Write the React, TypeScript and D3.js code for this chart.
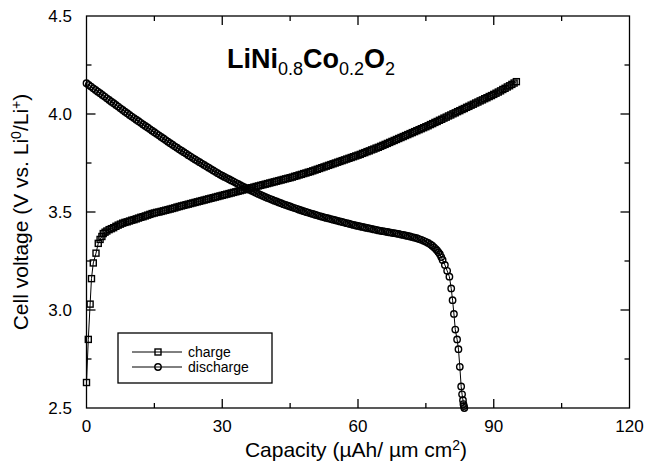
import React, { useEffect, useRef } from "react";
import * as d3 from "d3";

// capacity (µAh/µm cm²), voltage (V)
const chargePoints: [number, number][] = [
  [0, 2.63], [0.4, 2.85], [0.8, 3.03], [1.1, 3.16], [1.5, 3.24], [2.1, 3.29],
  [2.6, 3.34], [3, 3.36], [3.4, 3.375], [3.7, 3.39], [4.1, 3.397], [4.5, 3.403],
  [5, 3.41], [5.5, 3.415], [6, 3.42], [6.5, 3.427], [7, 3.433], [7.5, 3.438],
  [8, 3.443], [8.5, 3.447], [9, 3.45], [9.5, 3.454], [10, 3.458], [10.5, 3.461],
  [11, 3.465], [11.5, 3.469], [12, 3.473], [12.5, 3.476], [13, 3.48], [13.5, 3.484],
  [14, 3.488], [14.5, 3.492], [15, 3.495], [15.5, 3.498], [16, 3.5], [16.5, 3.503],
  [17, 3.506], [17.5, 3.509], [18, 3.512], [18.5, 3.515], [19, 3.518], [19.5, 3.521],
  [20, 3.525], [20.5, 3.528], [21, 3.531], [21.5, 3.534], [22, 3.537], [22.5, 3.54],
  [23, 3.543], [23.5, 3.546], [24, 3.549], [24.5, 3.552], [25, 3.555], [25.5, 3.558],
  [26, 3.561], [26.5, 3.564], [27, 3.567], [27.5, 3.57], [28, 3.573], [28.5, 3.576],
  [29, 3.579], [29.5, 3.582], [30, 3.585], [30.5, 3.588], [31, 3.591], [31.5, 3.594],
  [32, 3.597], [32.5, 3.6], [33, 3.603], [33.5, 3.606], [34, 3.609], [34.5, 3.612],
  [35, 3.615], [35.5, 3.618], [36, 3.621], [36.5, 3.624], [37, 3.627], [37.5, 3.63],
  [38, 3.633], [38.5, 3.636], [39, 3.639], [39.5, 3.642], [40, 3.645], [40.5, 3.648],
  [41, 3.651], [41.5, 3.654], [42, 3.657], [42.5, 3.66], [43, 3.663], [43.5, 3.666],
  [44, 3.669], [44.5, 3.672], [45, 3.675], [45.5, 3.678], [46, 3.682], [46.5, 3.685],
  [47, 3.689], [47.5, 3.692], [48, 3.696], [48.5, 3.699], [49, 3.703], [49.5, 3.706],
  [50, 3.71], [50.5, 3.714], [51, 3.718], [51.5, 3.722], [52, 3.726], [52.5, 3.73],
  [53, 3.734], [53.5, 3.738], [54, 3.742], [54.5, 3.746], [55, 3.75], [55.5, 3.754],
  [56, 3.758], [56.5, 3.762], [57, 3.766], [57.5, 3.77], [58, 3.774], [58.5, 3.778],
  [59, 3.782], [59.5, 3.786], [60, 3.79], [60.5, 3.794], [61, 3.799], [61.5, 3.803],
  [62, 3.808], [62.5, 3.812], [63, 3.817], [63.5, 3.821], [64, 3.826], [64.5, 3.83],
  [65, 3.835], [65.5, 3.84], [66, 3.845], [66.5, 3.85], [67, 3.855], [67.5, 3.86],
  [68, 3.865], [68.5, 3.87], [69, 3.875], [69.5, 3.88], [70, 3.885], [70.5, 3.89],
  [71, 3.895], [71.5, 3.9], [72, 3.905], [72.5, 3.91], [73, 3.915], [73.5, 3.92],
  [74, 3.925], [74.5, 3.93], [75, 3.935], [75.5, 3.94], [76, 3.946], [76.5, 3.951],
  [77, 3.957], [77.5, 3.962], [78, 3.968], [78.5, 3.973], [79, 3.979], [79.5, 3.984],
  [80, 3.99], [80.5, 3.995], [81, 4.001], [81.5, 4.006], [82, 4.012], [82.5, 4.017],
  [83, 4.023], [83.5, 4.028], [84, 4.034], [84.5, 4.039], [85, 4.045], [85.5, 4.05],
  [86, 4.056], [86.5, 4.061], [87, 4.067], [87.5, 4.072], [88, 4.078], [88.5, 4.083],
  [89, 4.089], [89.5, 4.094], [90, 4.1], [90.5, 4.106], [91, 4.112], [91.5, 4.118],
  [92, 4.125], [92.5, 4.131], [93, 4.138], [93.5, 4.144], [94, 4.151], [94.5, 4.158],
  [95, 4.165],
];

const dischargePoints: [number, number][] = [
  [0, 4.157], [0.5, 4.148], [1, 4.14], [1.5, 4.131], [2, 4.123], [2.5, 4.114],
  [3, 4.106], [3.5, 4.097], [4, 4.089], [4.5, 4.08], [5, 4.072], [5.5, 4.063],
  [6, 4.055], [6.5, 4.046], [7, 4.038], [7.5, 4.029], [8, 4.021], [8.5, 4.012],
  [9, 4.004], [9.5, 3.995], [10, 3.987], [10.5, 3.979], [11, 3.971], [11.5, 3.963],
  [12, 3.955], [12.5, 3.947], [13, 3.939], [13.5, 3.931], [14, 3.923], [14.5, 3.915],
  [15, 3.907], [15.5, 3.899], [16, 3.891], [16.5, 3.883], [17, 3.875], [17.5, 3.867],
  [18, 3.859], [18.5, 3.851], [19, 3.843], [19.5, 3.835], [20, 3.828], [20.5, 3.82],
  [21, 3.813], [21.5, 3.805], [22, 3.798], [22.5, 3.79], [23, 3.783], [23.5, 3.775],
  [24, 3.768], [24.5, 3.761], [25, 3.754], [25.5, 3.747], [26, 3.74], [26.5, 3.733],
  [27, 3.726], [27.5, 3.719], [28, 3.712], [28.5, 3.705], [29, 3.698], [29.5, 3.691],
  [30, 3.685], [30.5, 3.679], [31, 3.673], [31.5, 3.667], [32, 3.661], [32.5, 3.655],
  [33, 3.649], [33.5, 3.643], [34, 3.637], [34.5, 3.631], [35, 3.625], [35.5, 3.619],
  [36, 3.614], [36.5, 3.608], [37, 3.603], [37.5, 3.597], [38, 3.592], [38.5, 3.587],
  [39, 3.582], [39.5, 3.577], [40, 3.572], [40.5, 3.567], [41, 3.563], [41.5, 3.558],
  [42, 3.554], [42.5, 3.549], [43, 3.545], [43.5, 3.54], [44, 3.536], [44.5, 3.532],
  [45, 3.528], [45.5, 3.524], [46, 3.52], [46.5, 3.516], [47, 3.512], [47.5, 3.508],
  [48, 3.504], [48.5, 3.5], [49, 3.497], [49.5, 3.493], [50, 3.49], [50.5, 3.486],
  [51, 3.483], [51.5, 3.479], [52, 3.476], [52.5, 3.473], [53, 3.47], [53.5, 3.467],
  [54, 3.464], [54.5, 3.461], [55, 3.458], [55.5, 3.455], [56, 3.452], [56.5, 3.449],
  [57, 3.446], [57.5, 3.443], [58, 3.44], [58.5, 3.437], [59, 3.434], [59.5, 3.431],
  [60, 3.429], [60.5, 3.426], [61, 3.424], [61.5, 3.421], [62, 3.419], [62.5, 3.416],
  [63, 3.414], [63.5, 3.411], [64, 3.409], [64.5, 3.406], [65, 3.404], [65.5, 3.402],
  [66, 3.4], [66.5, 3.398], [67, 3.396], [67.5, 3.394], [68, 3.392], [68.5, 3.39],
  [69, 3.388], [69.5, 3.385], [70, 3.383], [70.5, 3.38], [71, 3.378], [71.5, 3.375],
  [72, 3.372], [72.5, 3.369], [73, 3.366], [73.5, 3.362], [74, 3.358], [74.5, 3.353],
  [75, 3.348], [75.5, 3.342], [76, 3.335], [76.4, 3.328], [76.8, 3.32], [77.2, 3.311],
  [77.5, 3.303], [77.8, 3.294], [78.1, 3.285], [78.4, 3.27], [78.7, 3.255], [79.2, 3.23],
  [79.7, 3.2], [80.2, 3.17], [80.6, 3.11], [80.9, 3.05], [81.2, 2.98], [81.5, 2.9],
  [81.9, 2.85], [82.2, 2.8], [82.5, 2.71], [82.8, 2.61], [83, 2.57], [83.2, 2.54],
  [83.3, 2.52], [83.4, 2.51], [83.5, 2.5],
];

const xTicks = [0, 30, 60, 90, 120];
const yTicks = [2.5, 3.0, 3.5, 4.0, 4.5];
const xMinor = [15, 45, 75, 105];
const yMinor = [2.75, 3.25, 3.75, 4.25];

export default function App() {
  const ref = useRef<SVGSVGElement>(null);

  useEffect(() => {
    const svg = d3.select(ref.current);
    svg.selectAll("*").remove();

    const left = 86.5, right = 629.5, top = 16, bottom = 408;
    const x = d3.scaleLinear().domain([0, 120]).range([left, right]);
    const y = d3.scaleLinear().domain([2.5, 4.5]).range([bottom, top]);
    const font = "'Liberation Sans', Arial, sans-serif";

    // frame
    svg.append("rect")
      .attr("x", left).attr("y", top)
      .attr("width", right - left).attr("height", bottom - top)
      .attr("fill", "none").attr("stroke", "#000").attr("stroke-width", 1.3);

    // inward ticks on all four sides
    const g = svg.append("g").attr("stroke", "#000").attr("stroke-width", 1.3);
    const tk = (vals: number[], len: number) => {
      vals.forEach(v => {
        g.append("line").attr("x1", x(v)).attr("x2", x(v)).attr("y1", bottom).attr("y2", bottom - len);
        g.append("line").attr("x1", x(v)).attr("x2", x(v)).attr("y1", top).attr("y2", top + len);
      });
    };
    const tky = (vals: number[], len: number) => {
      vals.forEach(v => {
        g.append("line").attr("y1", y(v)).attr("y2", y(v)).attr("x1", left).attr("x2", left + len);
        g.append("line").attr("y1", y(v)).attr("y2", y(v)).attr("x1", right).attr("x2", right - len);
      });
    };
    tk(xTicks.slice(1, -1), 9);
    tk(xMinor, 5);
    tky(yTicks.slice(1, -1), 9);
    tky(yMinor, 5);

    // tick labels
    svg.append("g").selectAll("text").data(xTicks).join("text")
      .attr("x", d => x(d)).attr("y", 432)
      .attr("text-anchor", "middle")
      .attr("font-family", font).attr("font-size", 17)
      .text(d => String(d));
    svg.append("g").selectAll("text").data(yTicks).join("text")
      .attr("x", 72).attr("y", d => y(d) + 6)
      .attr("text-anchor", "end")
      .attr("font-family", font).attr("font-size", 17)
      .text(d => d.toFixed(1));

    // axis titles
    const xt = svg.append("text")
      .attr("x", 356).attr("y", 457)
      .attr("text-anchor", "middle")
      .attr("font-family", font).attr("font-size", 21);
    xt.append("tspan").text("Capacity (µAh/ µm cm");
    xt.append("tspan").attr("font-size", 14).attr("dy", -7).text("2");
    xt.append("tspan").attr("dy", 7).text(")");

    const yt = svg.append("text")
      .attr("transform", "translate(28,212) rotate(-90)")
      .attr("text-anchor", "middle")
      .attr("font-family", font).attr("font-size", 21);
    yt.append("tspan").text("Cell voltage (V vs. Li");
    yt.append("tspan").attr("font-size", 14).attr("dy", -7).text("0");
    yt.append("tspan").attr("dy", 7).text("/Li");
    yt.append("tspan").attr("font-size", 14).attr("dy", -7).text("+");
    yt.append("tspan").attr("dy", 7).text(")");

    // compound label
    const tt = svg.append("text")
      .attr("x", 227).attr("y", 68)
      .attr("font-family", font).attr("font-size", 27).attr("font-weight", "bold");
    tt.append("tspan").text("LiNi");
    tt.append("tspan").attr("font-size", 18).attr("font-weight", "normal").attr("dy", 7).text("0.8");
    tt.append("tspan").attr("dy", -7).text("Co");
    tt.append("tspan").attr("font-size", 18).attr("font-weight", "normal").attr("dy", 7).text("0.2");
    tt.append("tspan").attr("dy", -7).text("O");
    tt.append("tspan").attr("font-size", 18).attr("font-weight", "normal").attr("dy", 7).text("2");

    const line = d3.line<[number, number]>().x(d => x(d[0])).y(d => y(d[1]));

    // open (hollow) markers, line shows through
    const square = (sel: any, cx: number, cy: number) =>
      sel.append("rect").attr("x", cx - 3).attr("y", cy - 3).attr("width", 6).attr("height", 6)
        .attr("fill", "none").attr("stroke", "#000").attr("stroke-width", 1.4);
    const circle = (sel: any, cx: number, cy: number) =>
      sel.append("circle").attr("cx", cx).attr("cy", cy).attr("r", 3.2)
        .attr("fill", "none").attr("stroke", "#000").attr("stroke-width", 1.4);

    // charge
    svg.append("path").datum(chargePoints).attr("d", line)
      .attr("fill", "none").attr("stroke", "#000").attr("stroke-width", 1);
    const cg = svg.append("g");
    chargePoints.forEach(d => square(cg, x(d[0]), y(d[1])));

    // discharge
    svg.append("path").datum(dischargePoints).attr("d", line)
      .attr("fill", "none").attr("stroke", "#000").attr("stroke-width", 1);
    const dg = svg.append("g");
    dischargePoints.forEach(d => circle(dg, x(d[0]), y(d[1])));

    // legend
    const lg = svg.append("g");
    lg.append("rect").attr("x", 118).attr("y", 333).attr("width", 154).attr("height", 50)
      .attr("fill", "#fff").attr("stroke", "#000").attr("stroke-width", 1.3);
    [["charge", 352], ["discharge", 367]].forEach(([label, ly], i) => {
      lg.append("line").attr("x1", 132).attr("x2", 182).attr("y1", ly).attr("y2", ly)
        .attr("stroke", "#000").attr("stroke-width", 1);
      if (i === 0) square(lg, 158, ly as number);
      else circle(lg, 158, ly as number);
      lg.append("text").attr("x", 188).attr("y", (ly as number) + 5)
        .attr("font-family", font).attr("font-size", 14).text(label as string);
    });
  }, []);

  return (
    <svg ref={ref} width={645} height={466}
      style={{ position: "absolute", left: 0, top: 0, background: "#fff" }} />
  );
}
